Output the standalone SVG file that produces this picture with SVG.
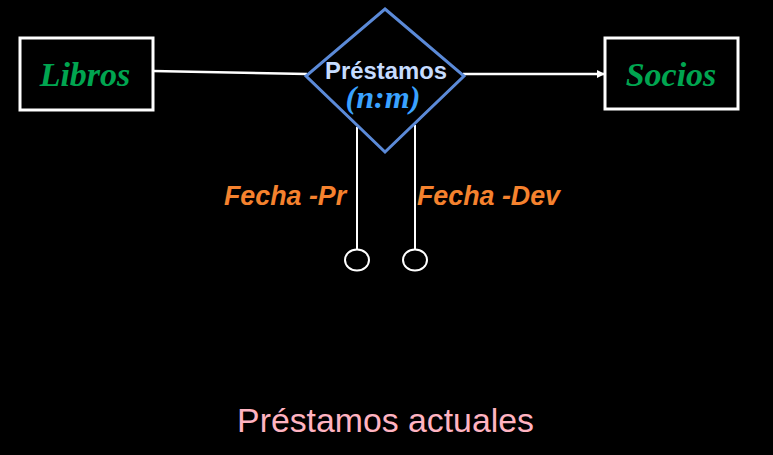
<svg xmlns="http://www.w3.org/2000/svg" width="773" height="455" viewBox="0 0 773 455">
<defs>
<style>
.ent{fill:#000;stroke:#fff;stroke-width:3}
.ent-t{font-family:"Liberation Serif",serif;font-weight:bold;font-style:italic;font-size:34px;fill:#00a550;text-anchor:middle}
.ln{stroke:#fff;stroke-width:2.5;fill:none}
.thin{stroke:#fff;stroke-width:2;fill:none}
.attr{font-family:"Liberation Sans",sans-serif;font-weight:bold;font-style:italic;font-size:26.8px;fill:#f5822e}
</style>
<marker id="arr" markerWidth="8" markerHeight="8" refX="7" refY="4" orient="auto" markerUnits="userSpaceOnUse">
<path d="M0,0 L8,4 L0,8 Z" fill="#fff"/>
</marker>
</defs>
<rect width="773" height="455" fill="#000"/>
<g id="connectors">
<line class="ln" x1="153" y1="71" x2="307" y2="74"/>
<line class="ln" x1="463" y1="74" x2="604" y2="74" marker-end="url(#arr)"/>
<line class="thin" x1="357" y1="127" x2="357" y2="249"/>
<line class="thin" x1="415" y1="125" x2="415" y2="249"/>
</g>
<g id="libros">
<rect class="ent" x="20" y="38" width="133" height="72"/>
<text class="ent-t" x="85" y="86">Libros</text>
</g>
<g id="socios">
<rect class="ent" x="605" y="38" width="133" height="71"/>
<text class="ent-t" x="671" y="86">Socios</text>
</g>
<g id="prestamos">
<polygon points="385,9 464,76 385,152 306,76" fill="#000" stroke="#5b8ad8" stroke-width="3"/>
<text x="386" y="79" font-family="Liberation Sans,sans-serif" font-weight="bold" font-size="23" fill="#c6dcff" text-anchor="middle" textLength="122" lengthAdjust="spacingAndGlyphs">Préstamos</text>
<text x="383" y="108" font-family="Liberation Serif,serif" font-weight="bold" font-style="italic" font-size="31" fill="#3aa2ff" text-anchor="middle" textLength="75" lengthAdjust="spacingAndGlyphs">(n:m)</text>
</g>
<g id="fecha-pr">
<ellipse cx="357" cy="260" rx="12" ry="10.5" fill="#000" stroke="#fff" stroke-width="2"/>
<text class="attr" x="224" y="205">Fecha -Pr</text>
</g>
<g id="fecha-dev">
<ellipse cx="415" cy="260" rx="12" ry="10.5" fill="#000" stroke="#fff" stroke-width="2"/>
<text class="attr" x="417" y="205">Fecha -Dev</text>
</g>
<text x="385.5" y="432" font-family="Liberation Sans,sans-serif" font-size="33.8" fill="#ffb3c1" text-anchor="middle">Préstamos actuales</text>
</svg>
